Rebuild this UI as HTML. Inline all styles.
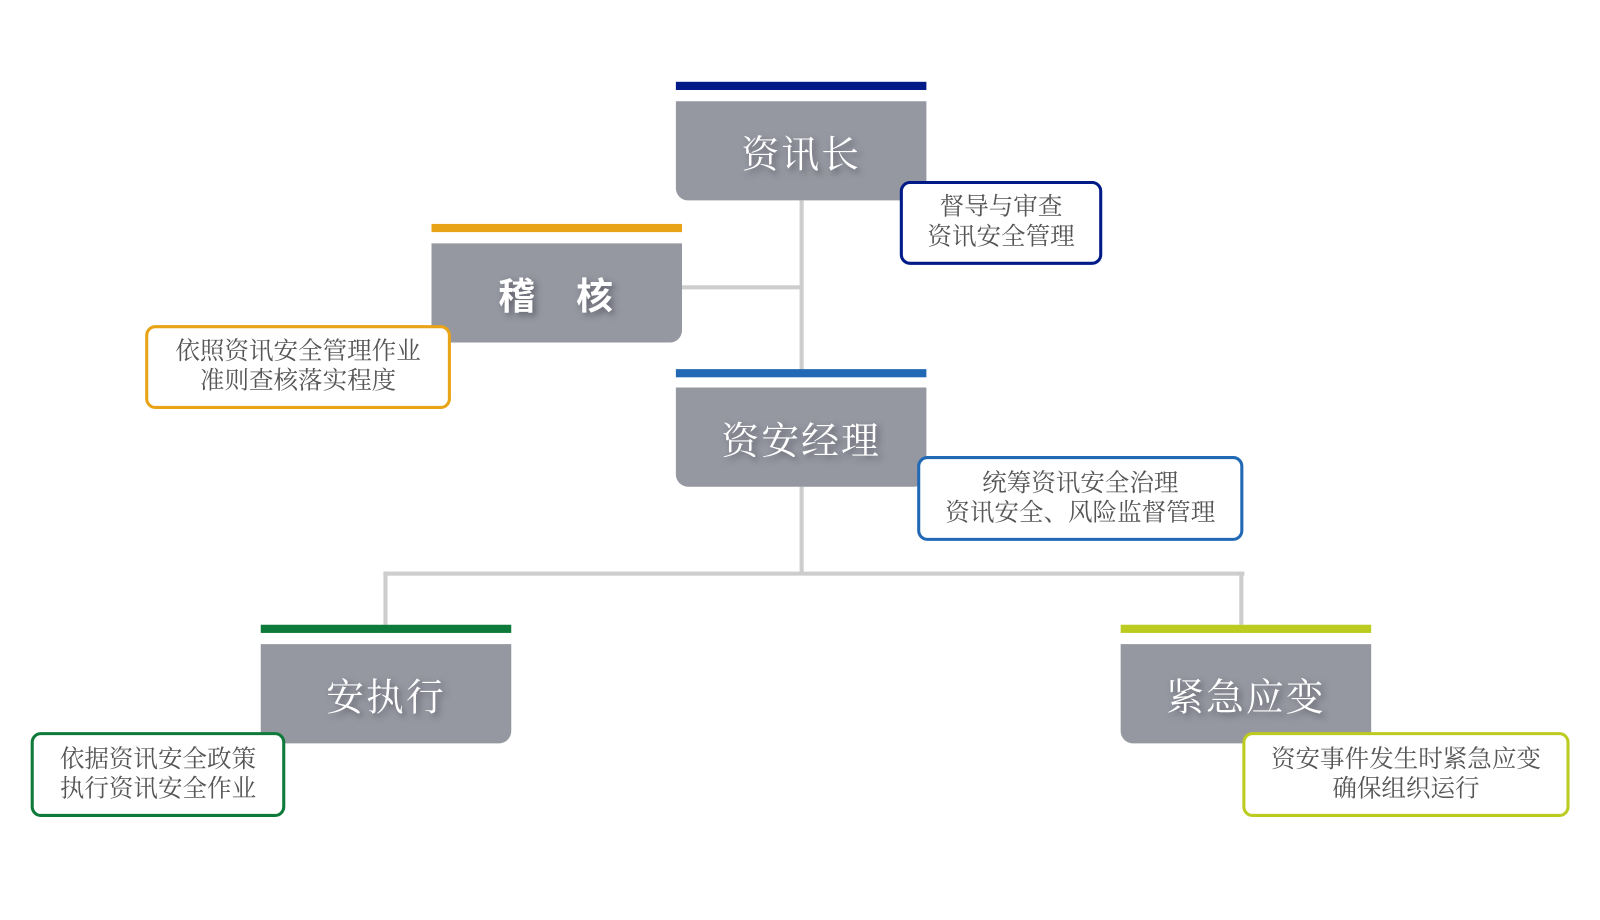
<!DOCTYPE html>
<html><head><meta charset="utf-8"><style>
body{margin:0;width:1600px;height:900px;background:#fff;position:relative;overflow:hidden;font-family:"Liberation Serif","Noto Serif CJK SC",serif}
#w{position:absolute;left:0;top:0;width:1600px;height:900px;transform:scale(1.0225);transform-origin:0 0}
.bar{position:absolute;height:8px;width:245px}
.box{position:absolute;width:245px;height:97px;background:#9597a1;border-radius:0 0 12px 12px;color:#fff;font-size:37px;display:flex;align-items:center;justify-content:center;text-shadow:3px 3px 6px rgba(60,60,70,.6);letter-spacing:2px}
.note{position:absolute;box-sizing:border-box;background:#fff;border:3px solid;border-radius:10px;color:#555;font-size:24px;line-height:29px;text-align:center;display:flex;align-items:center;justify-content:center;white-space:nowrap}
.ln{position:absolute;background:#cdcdcd}
</style></head><body><div id="w">
<div class="ln" style="left:782px;top:196px;width:4px;height:166px"></div>
<div class="ln" style="left:667px;top:279px;width:117px;height:4px"></div>
<div class="ln" style="left:782px;top:476px;width:4px;height:86px"></div>
<div class="ln" style="left:375px;top:559px;width:842px;height:4px"></div>
<div class="ln" style="left:375px;top:559px;width:4px;height:52px"></div>
<div class="ln" style="left:1212px;top:559px;width:4px;height:52px"></div>

<div class="bar" style="left:661px;top:80px;background:#001a87"></div>
<div class="box" style="left:661px;top:99px">资讯长</div>
<div class="bar" style="left:422px;top:219px;background:#e8a317"></div>
<div class="box" style="left:422px;top:238px;font-family:'Liberation Sans','Noto Sans CJK SC',sans-serif;font-weight:bold;font-size:36px">稽&emsp;核</div>
<div class="bar" style="left:661px;top:361px;background:#2169b5"></div>
<div class="box" style="left:661px;top:379px">资安经理</div>
<div class="bar" style="left:255px;top:611px;background:#0d7a3a"></div>
<div class="box" style="left:255px;top:630px">安执行</div>
<div class="bar" style="left:1096px;top:611px;background:#bccb1f"></div>
<div class="box" style="left:1096px;top:630px">紧急应变</div>

<div class="note" style="left:880px;top:177px;width:198px;height:82px;border-color:#001a87">督导与审查<br>资讯安全管理</div>
<div class="note" style="left:142px;top:318px;width:299px;height:82px;border-color:#e8a317">依照资讯安全管理作业<br>准则查核落实程度</div>
<div class="note" style="left:897px;top:446px;width:319px;height:83px;border-color:#2169b5">统筹资讯安全治理<br>资讯安全、风险监督管理</div>
<div class="note" style="left:30px;top:716px;width:249px;height:83px;border-color:#0d7a3a">依据资讯安全政策<br>执行资讯安全作业</div>
<div class="note" style="left:1215px;top:716px;width:320px;height:83px;border-color:#bccb1f">资安事件发生时紧急应变<br>确保组织运行</div>
</div></body></html>
